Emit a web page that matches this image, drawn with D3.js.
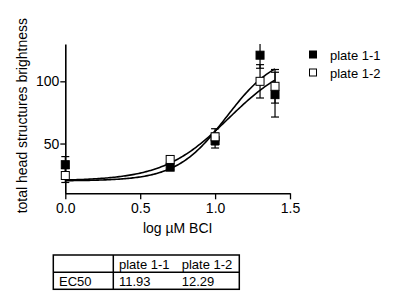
<!DOCTYPE html>
<html><head><meta charset="utf-8">
<script src="https://cdn.jsdelivr.net/npm/d3@7"></script>
<style>body{margin:0;background:#fff}svg{display:block}text{font-family:Arial,"Liberation Sans",sans-serif;fill:#000}</style>
</head><body>
<script>
const doses = [0, 0.7, 1.0, 1.3, 1.4];
const plate11 = [33, 31, 52.4, 121, 89.3];
const plate11Err = [6.5, 2, 6, 10.5, 18];
const plate12 = [24.3, 37.2, 55.4, 100, 96];
const plate12Err = [5.6, 2, 6.5, 13.4, 13.5];
// fitted 4PL parameters: bottom, top, logEC50, hill
const plate11Fit = [20, 123, Math.log10(11.93), 2.6];
const plate12Fit = [20, 120.4, Math.log10(12.29), 2.0];
const seriesNames = ["plate 1-1", "plate 1-2"];
const ec50 = ["11.93", "12.29"];
const xTicks = [0, 0.5, 1.0, 1.5];
const yTicks = [50, 100];

const W = 400, H = 299;
const svg = d3.select("body").append("svg").attr("width", W).attr("height", H);
const x = d3.scaleLinear().domain([0, 1.5]).range([65.3, 290]);
const y = d3.scaleLinear().domain([10, 130]).range([193.3, 44]);

svg.append("defs").append("clipPath").attr("id","clip").append("rect")
  .attr("x", 40).attr("y", 44).attr("width", 260).attr("height", 160);

// axes
const xAxis = svg.append("g").attr("transform", `translate(0,${y(10)})`)
  .call(d3.axisBottom(x).tickValues(xTicks).tickFormat(d3.format(".1f")).tickSize(6).tickSizeOuter(0));
const yAxis = svg.append("g").attr("transform", `translate(${x(0)},0)`)
  .call(d3.axisLeft(y).tickValues(yTicks).tickFormat(d3.format("d")).tickSize(5).tickSizeOuter(0));
[xAxis, yAxis].forEach(a => {
  a.select(".domain").attr("stroke", "#000").attr("stroke-width", 1.6);
  a.selectAll(".tick line").attr("stroke", "#000").attr("stroke-width", 1.3);
  a.selectAll(".tick text").attr("font-size", 14).attr("font-family", 'Arial,"Liberation Sans",sans-serif').attr("fill", "#000");
});
xAxis.selectAll(".tick text").attr("dy", 0).attr("y", 20);
yAxis.selectAll(".tick text").attr("x", -6);

svg.append("text").attr("x", (x(0) + x(1.5)) / 2).attr("y", 233).attr("text-anchor", "middle")
  .attr("font-size", 14).text("log µM BCI");
svg.append("text").attr("transform", `translate(27,${(y(10) + y(130)) / 2 - 3}) rotate(-90)`)
  .attr("text-anchor", "middle").attr("font-size", 14).text("total head structures brightness");

const plot = svg.append("g").attr("clip-path", "url(#clip)");

// fitted curves
function fourPL(p) { return v => p[0] + (p[1] - p[0]) / (1 + Math.pow(10, (p[2] - v) * p[3])); }
const xs = d3.range(0, 1.4001, 0.01);
[plate11Fit, plate12Fit].forEach(p => {
  const f = fourPL(p);
  plot.append("path").datum(xs)
    .attr("d", d3.line().x(d => x(d)).y(d => y(f(d))))
    .attr("fill", "none").attr("stroke", "#000").attr("stroke-width", 1.6);
});

// error bars + markers
const series = [
  {vals: plate11, err: plate11Err, fill: "#000"},
  {vals: plate12, err: plate12Err, fill: "#fff"}
];
series.forEach(s => {
  const g = plot.append("g");
  doses.forEach((d, i) => {
    const cx = x(d), lo = y(s.vals[i] - s.err[i]), hi = y(s.vals[i] + s.err[i]);
    g.append("line").attr("x1", cx).attr("x2", cx).attr("y1", lo).attr("y2", hi).attr("stroke", "#000").attr("stroke-width", 1.2);
    [lo, hi].forEach(yy => g.append("line").attr("x1", cx - 4).attr("x2", cx + 4).attr("y1", yy).attr("y2", yy).attr("stroke", "#000").attr("stroke-width", 1.2));
  });
});
series.forEach(s => {
  plot.append("g").selectAll("rect").data(doses).join("rect")
    .attr("x", d => x(d) - 4).attr("y", (d, i) => y(s.vals[i]) - 4)
    .attr("width", 8).attr("height", 8)
    .attr("fill", s.fill).attr("stroke", "#000").attr("stroke-width", 1);
});

// legend
const leg = svg.append("g");
seriesNames.forEach((n, i) => {
  leg.append("rect").attr("x", 309.5).attr("y", 51 + i * 18).attr("width", 7).attr("height", 7)
    .attr("fill", series[i].fill).attr("stroke", "#000").attr("stroke-width", 1);
  leg.append("text").attr("x", 330).attr("y", 59.5 + i * 18).attr("font-size", 13).text(n);
});

// table
const tb = svg.append("g");
const tx0 = 53.3, tx1 = 239.3, ty0 = 255, ty1 = 289.3, tmid = 272.3, tcol = 113.3;
tb.append("rect").attr("x", tx0).attr("y", ty0).attr("width", tx1 - tx0).attr("height", ty1 - ty0)
  .attr("fill", "none").attr("stroke", "#000").attr("stroke-width", 1.5);
tb.append("line").attr("x1", tx0).attr("x2", tx1).attr("y1", tmid).attr("y2", tmid).attr("stroke", "#000").attr("stroke-width", 1.5);
tb.append("line").attr("x1", tcol).attr("x2", tcol).attr("y1", ty0).attr("y2", ty1).attr("stroke", "#000").attr("stroke-width", 1.5);
const colX = [119, 181.7];
seriesNames.forEach((n, i) => tb.append("text").attr("x", colX[i]).attr("y", 268.5).attr("font-size", 13).text(n));
tb.append("text").attr("x", 59).attr("y", 286).attr("font-size", 13).text("EC50");
ec50.forEach((v, i) => tb.append("text").attr("x", colX[i]).attr("y", 286).attr("font-size", 13).text(v));
</script>
</body></html>
